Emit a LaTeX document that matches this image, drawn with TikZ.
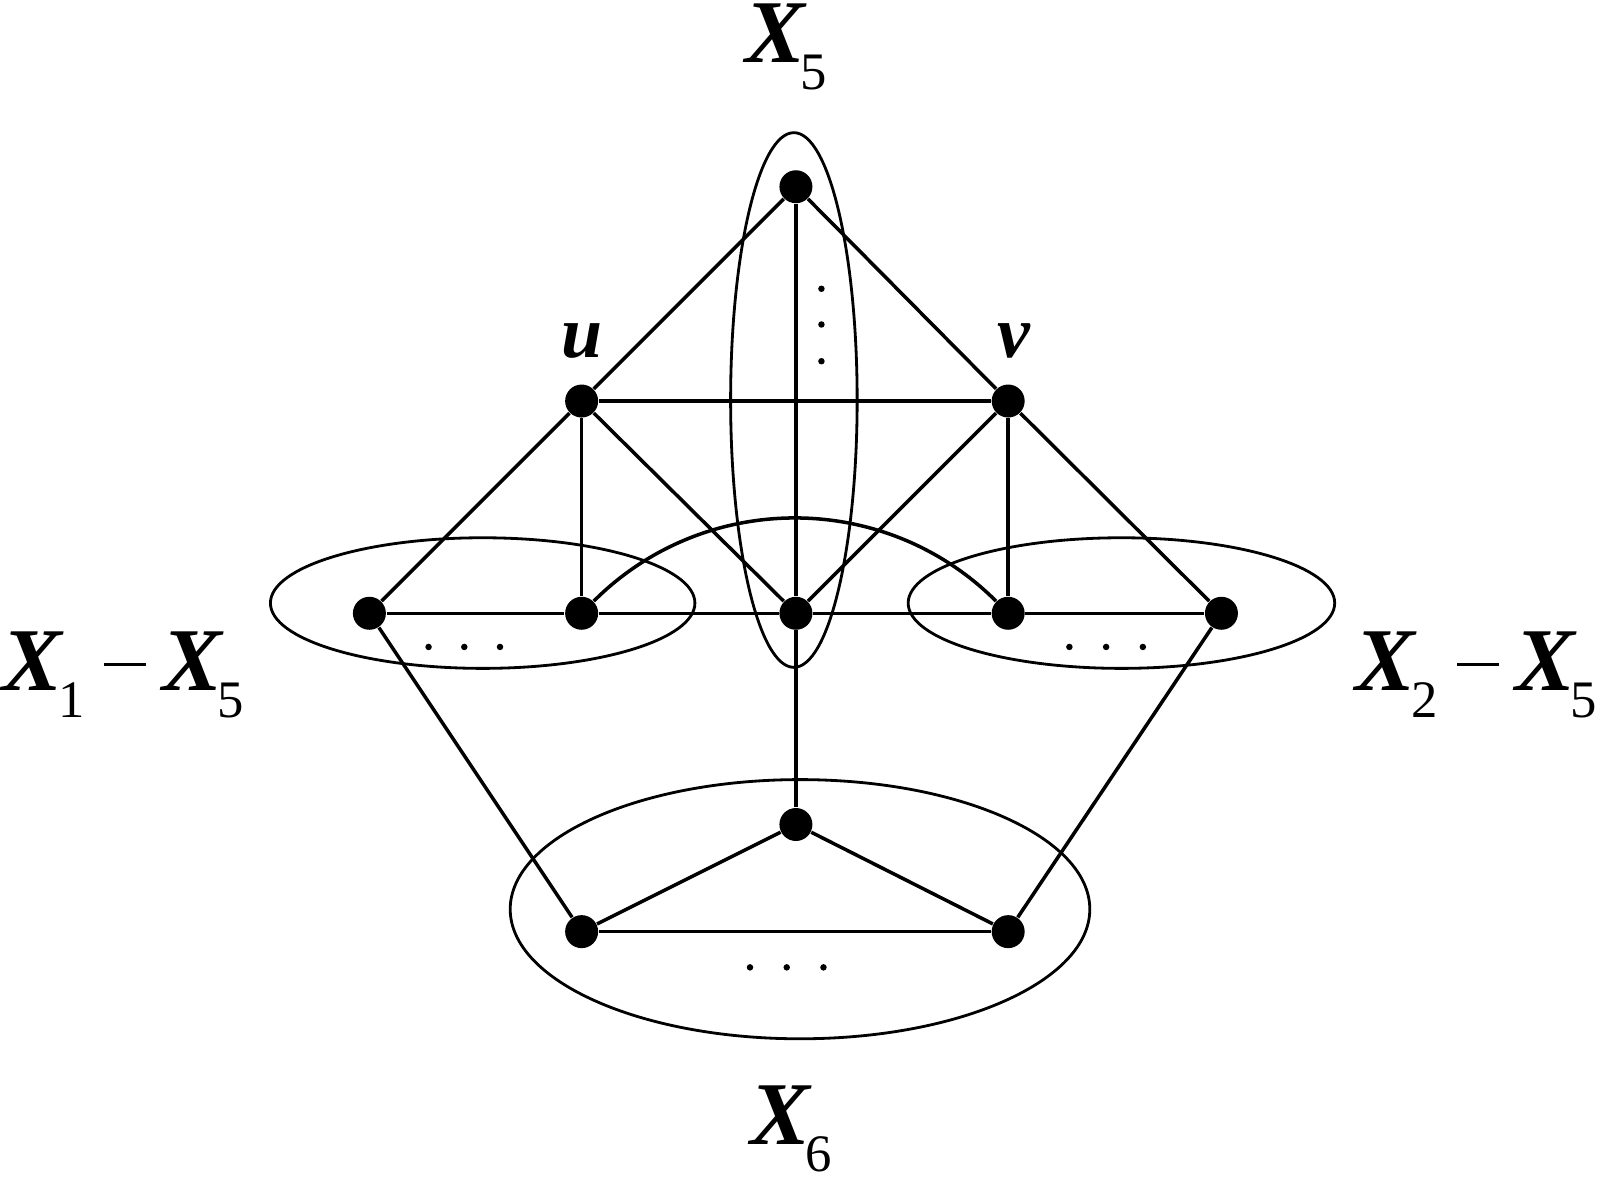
\documentclass[tikz,border=0pt]{standalone}
\usepackage{fontspec}
\setmainfont{Liberation Serif}
\newcommand{\xlab}[1]{{\bfseries\itshape X}\kern-0.05em\raisebox{-0.3em}{\fontsize{15}{15}\selectfont #1}}
\newcommand{\mysub}{\hspace{0.2cm}\rule[0.25cm]{0.42cm}{0.03cm}\hspace{0.16cm}}
\begin{document}
\begin{tikzpicture}[x=0.010204cm,y=-0.010204cm,
  vtx/.style={circle,fill=black,inner sep=0pt,minimum size=0.33cm},
  edge/.style={line width=1pt},
  grp/.style={line width=0.8pt},
  tinydot/.style={circle,fill=black,inner sep=0pt,minimum size=0.065cm},
  lab/.style={anchor=base west,inner sep=0pt,font=\fontsize{25.5}{25.5}\selectfont},
  smalllab/.style={anchor=base west,inner sep=0pt,font=\fontsize{21}{21}\selectfont}]
\useasboundingbox (0,0) rectangle (1568,1156);
% vertices
\node[vtx] (T) at (780,183) {};
\node[vtx] (u) at (570,393) {};
\node[vtx] (v) at (988,393) {};
\node[vtx] (L1) at (362,601) {};
\node[vtx] (L2) at (570,601) {};
\node[vtx] (C) at (780,601) {};
\node[vtx] (R1) at (988,601) {};
\node[vtx] (R2) at (1197,601) {};
\node[vtx] (B) at (780,808) {};
\node[vtx] (BL) at (570,913) {};
\node[vtx] (BR) at (988,913) {};
% group ellipses
\draw[grp] (778,392) ellipse [x radius=62,y radius=262];
\draw[grp] (473,591) ellipse [x radius=208,y radius=64];
\draw[grp] (1099,591) ellipse [x radius=209,y radius=64];
\draw[grp] (784,891) ellipse [x radius=284,y radius=127];
% edges
\draw[edge] (T) -- (u);
\draw[edge] (T) -- (v);
\draw[edge] (T) -- (C);
\draw[edge] (u) -- (v);
\draw[edge] (u) -- (L1);
\draw[edge] (u) -- (L2);
\draw[edge] (u) -- (C);
\draw[edge] (v) -- (R1);
\draw[edge] (v) -- (R2);
\draw[edge] (v) -- (C);
\draw[edge] (L1) -- (L2);
\draw[edge] (L2) -- (C);
\draw[edge] (C) -- (R1);
\draw[edge] (R1) -- (R2);
\draw[edge] (L2) to[out=45,in=135] (R1);
\draw[edge] (C) -- (B);
\draw[edge] (L1) -- (BL);
\draw[edge] (R2) -- (BR);
\draw[edge] (B) -- (BL);
\draw[edge] (B) -- (BR);
\draw[edge] (BL) -- (BR);
% ellipsis dots
\foreach \i/\x/\y in {l1/420/634,l2/455/634,l3/490/634,r1/1048/634,r2/1084/634,r3/1120/634,
  c1/805/283,c2/805/318,c3/805/354,b1/735/948,b2/771/948,b3/807/948}
  \node[tinydot] (d\i) at (\x,\y) {};
% labels
\node[lab] (lX5) at (730,61) {\xlab{5}};
\node[smalllab] (lu) at (550,350) {\bfseries\itshape u};
\node[smalllab] (lv) at (977,350) {\bfseries\itshape v};
\node[lab] (lL) at (2,677) {\xlab{1}\mysub\xlab{5}};
\node[lab] (lR) at (1328,677) {\xlab{2}\mysub\xlab{5}};
\node[lab] (lX6) at (735,1122) {\xlab{6}};
\end{tikzpicture}
\end{document}
